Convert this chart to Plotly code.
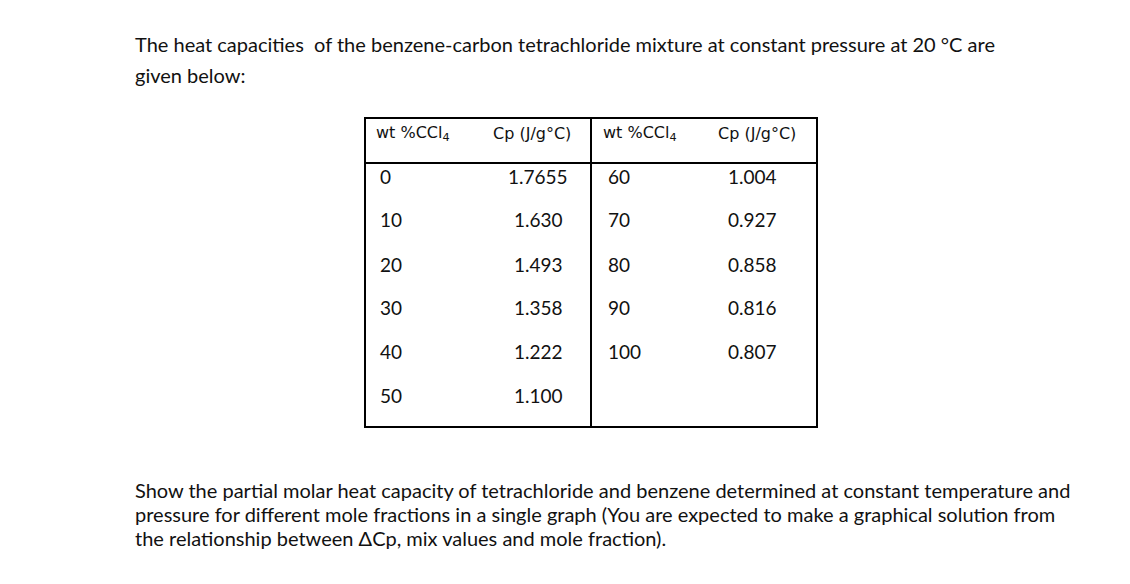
import plotly.graph_objects as go

wt_left = [0, 10, 20, 30, 40, 50]
cp_left = ["1.7655", "1.630", "1.493", "1.358", "1.222", "1.100"]
wt_right = [60, 70, 80, 90, 100]
cp_right = ["1.004", "0.927", "0.858", "0.816", "0.807"]
headers = ["wt %CCl<sub>4</sub>", "Cp (J/g°C)", "wt %CCl<sub>4</sub>", "Cp (J/g°C)"]

intro = ["The heat capacities  of the benzene-carbon tetrachloride mixture at constant pressure at 20 °C are",
         "given below:"]
question = ["Show the partial molar heat capacity of tetrachloride and benzene determined at constant temperature and",
            "pressure for different mole fractions in a single graph (You are expected to make a graphical solution from",
            "the relationship between ΔCp, mix values and mole fraction)."]

body_font = dict(family="Lato, Open Sans, sans-serif", size=20, color="#111")
table_font = dict(family="Lato, sans-serif", size=19, color="#111")
head_font = dict(family="DejaVu Sans, sans-serif", size=16, color="#111")

fig = go.Figure()
ann = []

for i, line in enumerate(intro):
    ann.append(dict(x=133, y=44 + i * 31, text=line, xanchor="left", font=body_font))
for i, line in enumerate(question):
    ann.append(dict(x=133, y=490 + i * 24, text=line, xanchor="left", font=body_font))

for x, h in zip([413, 532, 640, 757], headers):
    ann.append(dict(x=x, y=133, text=h, font=head_font))

row_y = [176, 219, 264, 307, 351, 395]
for i, (w, c) in enumerate(zip(wt_left, cp_left)):
    ann.append(dict(x=378, y=row_y[i], text=str(w), xanchor="left", font=table_font))
    ann.append(dict(x=538, y=row_y[i], text=c, font=table_font))
for i, (w, c) in enumerate(zip(wt_right, cp_right)):
    ann.append(dict(x=606, y=row_y[i], text=str(w), xanchor="left", font=table_font))
    ann.append(dict(x=752, y=row_y[i], text=c, font=table_font))

for a in ann:
    a.update(xref="x", yref="y", showarrow=False, yanchor="middle")

line = dict(color="black", width=2)
shapes = [
    dict(type="rect", x0=365, x1=817, y0=118, y1=427, line=line),
    dict(type="line", x0=591, x1=591, y0=118, y1=427, line=line),
    dict(type="line", x0=365, x1=817, y0=163, y1=163, line=line),
]
for s in shapes:
    s.update(xref="x", yref="y")

fig.update_layout(
    width=1130, height=584, margin=dict(l=0, r=0, t=0, b=0),
    paper_bgcolor="white", plot_bgcolor="white",
    xaxis=dict(range=[8, 1138], visible=False, fixedrange=True),
    yaxis=dict(range=[592, 8], visible=False, fixedrange=True),
    annotations=ann, shapes=shapes, showlegend=False,
)

fig.write_html("out.html")
